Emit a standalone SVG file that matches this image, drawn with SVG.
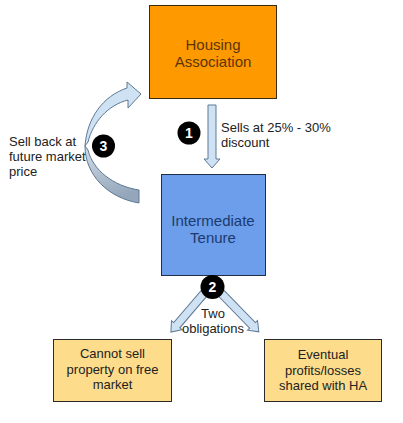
<svg xmlns="http://www.w3.org/2000/svg" width="403" height="423" viewBox="0 0 403 423">
<defs>
<style>
.t{font-family:"Liberation Sans",Arial,sans-serif;text-anchor:middle}
.l{font-family:"Liberation Sans",Arial,sans-serif;font-size:13px;fill:#222}
.num{font-family:"Liberation Sans",Arial,sans-serif;font-size:14px;font-weight:bold;fill:#fff;text-anchor:middle}
.arr{fill:#cfe2f3;stroke:#5f7894;stroke-width:1}
</style>
<linearGradient id="back" x1="0" y1="0" x2="0.3" y2="1">
<stop offset="0" stop-color="#d3dde8"/>
<stop offset="1" stop-color="#93a6ba"/>
</linearGradient>
</defs>
<rect width="403" height="423" fill="#fff"/>
<g id="connectors">
<polygon class="arr" points="208,105 216,105 216,159 220,159 212,168 204,159 208,159"/>
<g transform="translate(206,291) rotate(130.5)">
<polygon class="arr" points="0,-4 45,-4 45,-7 54,0 45,7 45,4 0,4"/>
</g>
<g transform="translate(219,291) rotate(45.7)">
<polygon class="arr" points="0,-4 48,-4 48,-7 57,0 48,7 48,4 0,4"/>
</g>
<path d="M85 146 C85 175 108 198 139 203 L139 190 C113 186 93 170 88 150 Z" fill="url(#back)" stroke="#5f7894" stroke-width="1"/>
<path class="arr" d="M85 146 C87 118 103 96 127 88 L127 82 L141 94 L128 108 L128 100 C108 105 93 122 88 142 Z"/>
</g>
<g id="housing-association">
<rect x="149.5" y="5.5" width="127" height="93" fill="#ff9900" stroke="#3a2a10" stroke-width="1"/>
<text class="t" x="213" y="50" font-size="15" fill="#5a3608">Housing</text>
<text class="t" x="213" y="67" font-size="15" fill="#5a3608">Association</text>
</g>
<g id="intermediate-tenure">
<rect x="161.5" y="174.5" width="104" height="101" fill="#6d9eeb" stroke="#1f2f45" stroke-width="1"/>
<text class="t" x="213" y="226" font-size="15" fill="#1c3a6e">Intermediate</text>
<text class="t" x="213" y="243" font-size="15" fill="#1c3a6e">Tenure</text>
</g>
<g id="cannot-sell">
<rect x="53.5" y="339.5" width="118" height="62" fill="#fddc8c" stroke="#2a2a2a" stroke-width="1"/>
<text class="t" x="112.5" y="358" font-size="13" fill="#222">Cannot sell</text>
<text class="t" x="112.5" y="374" font-size="13" fill="#222">property on free</text>
<text class="t" x="112.5" y="389" font-size="13" fill="#222">market</text>
</g>
<g id="eventual-profits">
<rect x="264.5" y="339.5" width="117" height="62" fill="#fddc8c" stroke="#2a2a2a" stroke-width="1"/>
<text class="t" x="323" y="359" font-size="13" fill="#222">Eventual</text>
<text class="t" x="323" y="375" font-size="13" fill="#222">profits/losses</text>
<text class="t" x="323" y="390" font-size="13" fill="#222">shared with HA</text>
</g>
<g id="label-1">
<circle cx="189" cy="133" r="11.5" fill="#000"/>
<text class="num" x="189" y="138">1</text>
<text class="l" x="221" y="132">Sells at 25% - 30%</text>
<text class="l" x="221" y="147">discount</text>
</g>
<g id="label-2">
<circle cx="212.5" cy="287" r="12" fill="#000"/>
<text class="num" x="212.5" y="292">2</text>
<text class="t" x="213" y="318" font-size="13" fill="#222">Two</text>
<text class="t" x="213" y="333" font-size="13" fill="#222">obligations</text>
</g>
<g id="label-3">
<circle cx="103.5" cy="146" r="11.5" fill="#000"/>
<text class="num" x="103.5" y="151">3</text>
<text class="l" x="9" y="146">Sell back at</text>
<text class="l" x="9" y="161">future market</text>
<text class="l" x="9" y="176">price</text>
</g>
</svg>
